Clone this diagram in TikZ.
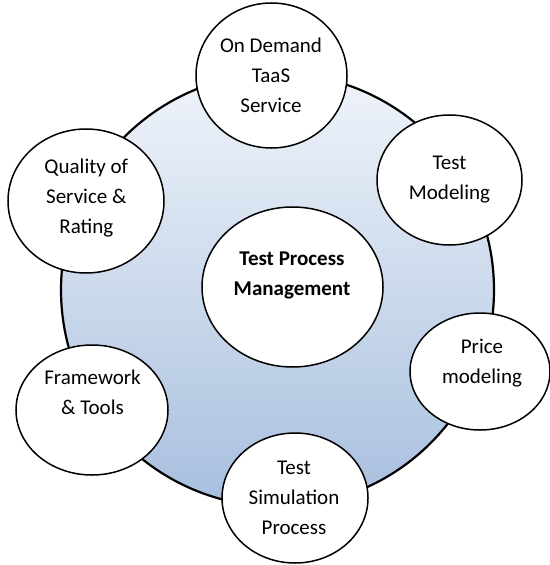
\documentclass[tikz,border=0pt]{standalone}
\usepackage{fontspec}
\setmainfont{Carlito}
\usetikzlibrary{shapes.geometric}
\definecolor{hubtop}{RGB}{240,244,250}
\definecolor{hubbottom}{RGB}{167,191,222}
\begin{document}
\begin{tikzpicture}[x=1bp,y=-1bp,
  hub/.style={circle, draw=black, line width=2.2bp, top color=hubtop,
    bottom color=hubbottom, minimum size=433bp, inner sep=0pt},
  blob/.style={ellipse, draw=black, line width=1.5bp, fill=white, inner sep=0pt},
  caption/.style={align=center, font=\fontsize{21bp}{30bp}\selectfont, inner sep=0pt}]
\useasboundingbox (0,0) rectangle (550,565);
% shaded ring behind everything
\node[hub] (hub) at (277.5,290) {};
% surrounding topics and the central topic
\node[blob, minimum width=151bp, minimum height=145bp] (ondemand) at (271.5,75.5) {};
\node[blob, minimum width=145bp, minimum height=130bp] (modeling) at (449.5,180) {};
\node[blob, minimum width=156bp, minimum height=144bp] (quality) at (86,201) {};
\node[blob, minimum width=181bp, minimum height=160bp] (core) at (292.5,287) {};
\node[blob, minimum width=140bp, minimum height=117bp] (price) at (480,371.5) {};
\node[blob, minimum width=152bp, minimum height=130bp] (framework) at (92,410) {};
\node[blob, minimum width=146bp, minimum height=130bp] (testsim) at (295,498) {};
% labels
\node[caption] (ondemandtxt) at (271,75) {On Demand\\TaaS\\Service};
\node[caption] (modelingtxt) at (449.5,179.5) {Test\\Modeling};
\node[caption] (qualitytxt) at (86.3,198) {Quality of\\Service \&\\Rating};
\node[caption, font=\fontsize{21bp}{30bp}\selectfont\bfseries] (coretxt) at (292,275.5) {Test Process\\Management};
\node[caption] (pricetxt) at (482,363) {Price\\modeling};
\node[caption] (frameworktxt) at (92.5,392) {Framework\\\& Tools};
\node[caption] (testsimtxt) at (294,498) {Test\\Simulation\\Process};
\end{tikzpicture}
\end{document}
